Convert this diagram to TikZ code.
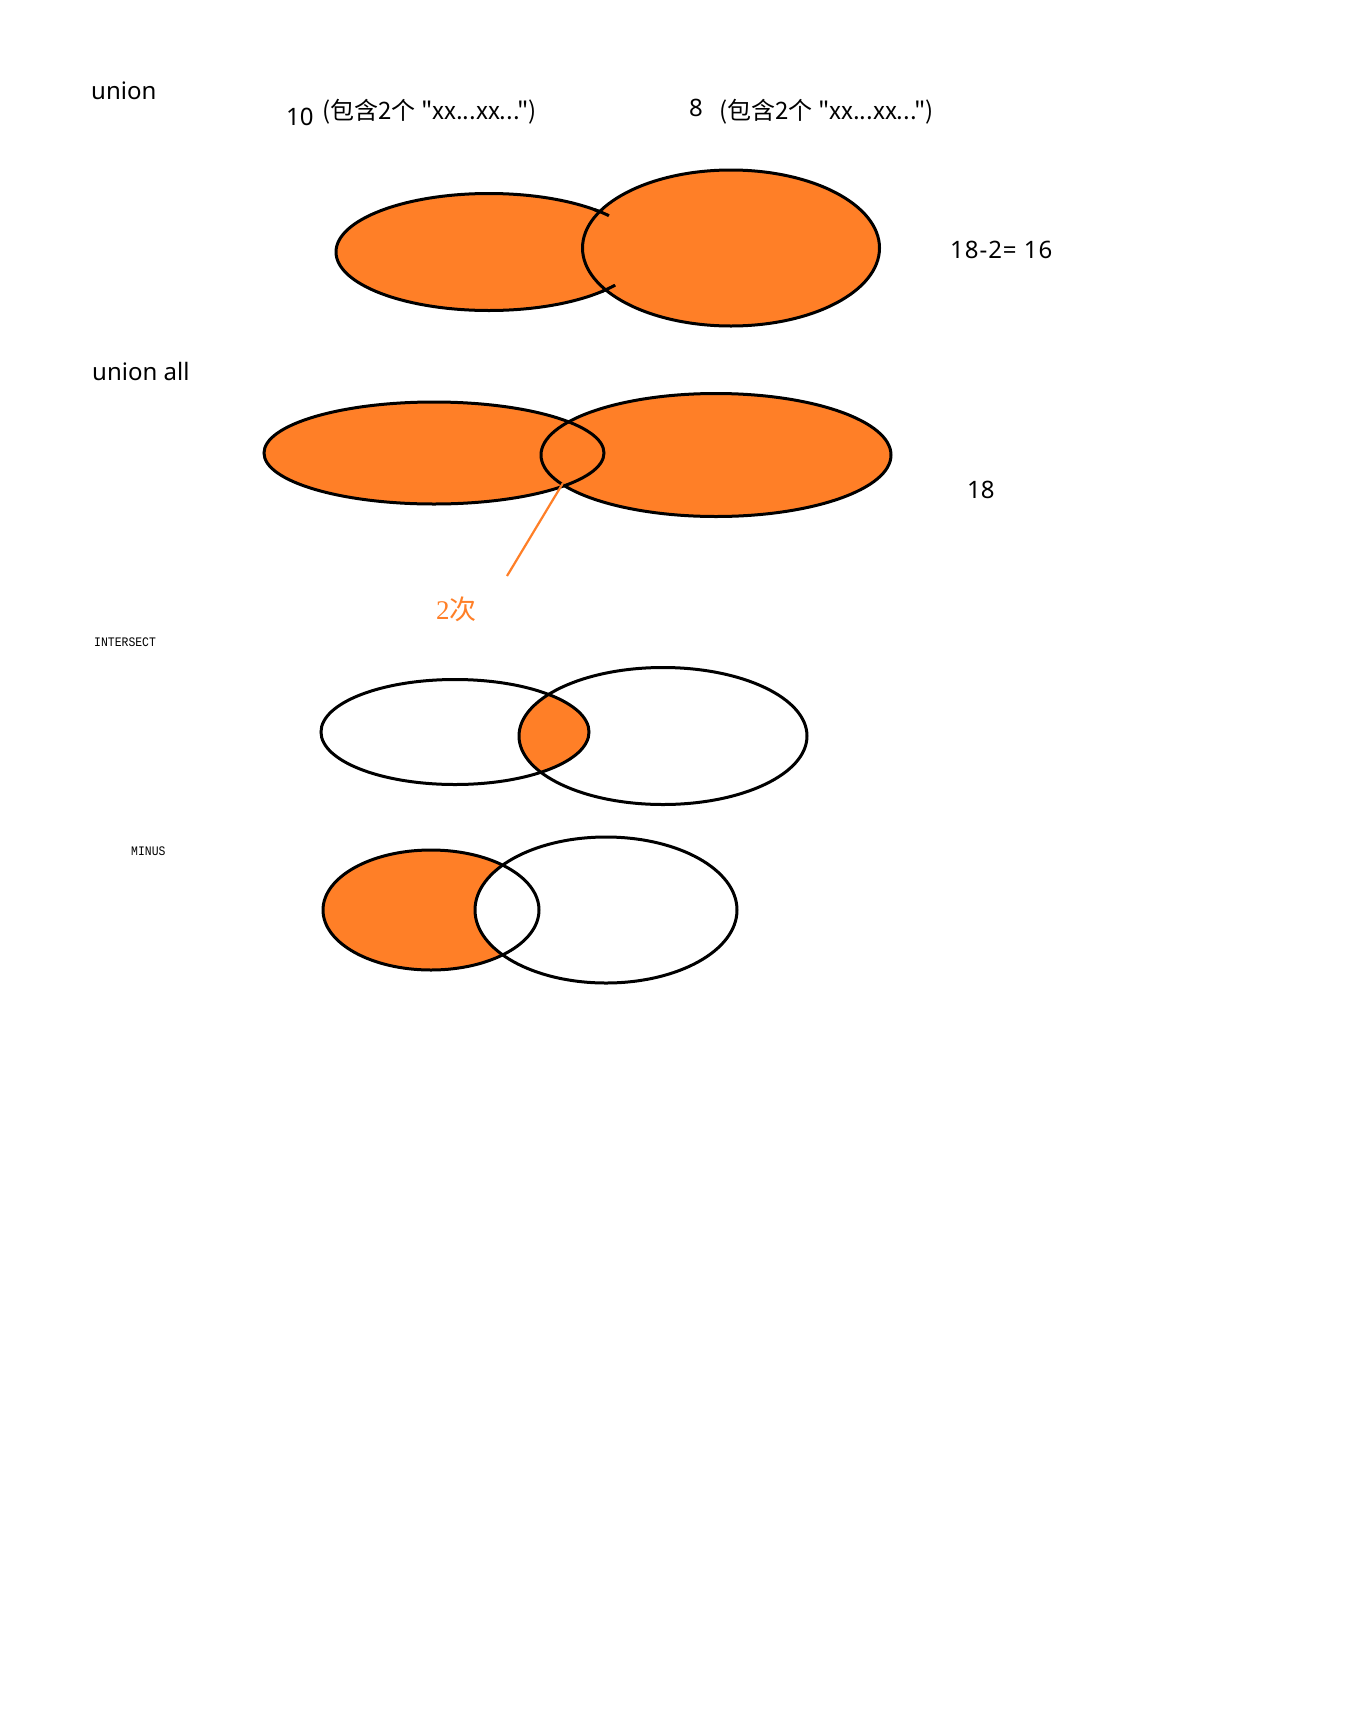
\documentclass[tikz,border=0pt]{standalone}
\usepackage{fontspec}
\setmainfont{Noto Sans}
\newfontfamily\cjkf{Noto Sans CJK SC}
\newfontfamily\serf{Liberation Serif}
\newfontfamily\monof{Liberation Mono}[FakeStretch=0.88]
\definecolor{paintorange}{RGB}{255,127,39}
\begin{document}
\begin{tikzpicture}[x=1pt,y=-1pt,
  lbl/.style={anchor=west,inner sep=0pt,font=\fontsize{24}{28}\selectfont},
  cjklbl/.style={anchor=west,inner sep=0pt,font=\cjkf\fontsize{24}{28}\selectfont},
  smalllbl/.style={anchor=west,inner sep=0pt,font=\monof\fontsize{13}{15}\selectfont},
  venn/.style={line width=3pt,draw=black},
  vfill/.style={fill=paintorange}]
\useasboundingbox (0,0) rectangle (1360,1732);
\fill[white] (0,0) rectangle (1360,1732);
% texts
\node[lbl] (tunion) at (91,91) {union};
\node[lbl] (tten) at (286,117) {10};
\node[cjklbl] (tleft) at (322,112) {(包含2个 "xx...xx...")};
\node[lbl] (teight) at (689,108) {8};
\node[cjklbl] (tright) at (719,112) {(包含2个 "xx...xx...")};
\node[lbl] (tsum) at (950,250) {\addfontfeature{LetterSpace=4}18-2= 16};
\node[lbl] (tunionall) at (92,371) {union all};
\node[lbl] (teighteen) at (967,490) {18};
\node[anchor=west,inner sep=0pt,text=paintorange,font=\fontsize{27}{30}\selectfont] (ttwice) at (436,609) {{\serf 2}{\cjkf 次}};
\node[smalllbl] (tinter) at (94,642) {INTERSECT};
\node[smalllbl] (tminus) at (131,851) {MINUS};
% union
\path[venn,vfill] (489,252) ellipse [x radius=153,y radius=58.5];
\path[venn,vfill] (731,248) ellipse [x radius=148.5,y radius=78];
\begin{scope}
\clip (602,212) circle [radius=8] (609,290) circle [radius=8];
\draw[venn] (489,252) ellipse [x radius=153,y radius=58.5];
\end{scope}
% union all
\fill[paintorange] (434,453) ellipse [x radius=170,y radius=51];
\fill[paintorange] (716,455) ellipse [x radius=175,y radius=61.5];
\draw[venn] (434,453) ellipse [x radius=170,y radius=51];
\draw[venn] (716,455) ellipse [x radius=175,y radius=61.5];
\coordinate (pA) at (563,483);
\coordinate (pB) at (507,576);
\draw[paintorange,line width=2.2pt] (pA) -- (pB);
% intersect
\begin{scope}
\clip (455,732) ellipse [x radius=134,y radius=52.5];
\fill[paintorange] (663,736) ellipse [x radius=144,y radius=68.5];
\end{scope}
\draw[venn] (455,732) ellipse [x radius=134,y radius=52.5];
\draw[venn] (663,736) ellipse [x radius=144,y radius=68.5];
% minus
\fill[paintorange] (431,910) ellipse [x radius=108,y radius=60];
\fill[white] (606,910) ellipse [x radius=131,y radius=73];
\draw[venn] (431,910) ellipse [x radius=108,y radius=60];
\draw[venn] (606,910) ellipse [x radius=131,y radius=73];
\end{tikzpicture}
\end{document}
